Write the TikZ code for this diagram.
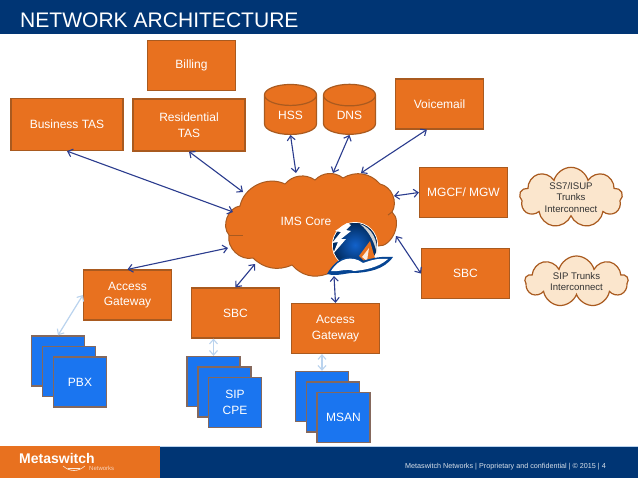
\documentclass[tikz,border=0pt]{standalone}
\usepackage{fontspec}
\setmainfont{Liberation Sans}
\usetikzlibrary{shapes.geometric,shapes.symbols,arrows.meta}
\definecolor{navy}{HTML}{003574}
\definecolor{boxorange}{HTML}{E8711F}
\definecolor{boxedge}{HTML}{A95A1F}
\definecolor{stackblue}{HTML}{1A75F0}
\definecolor{stackedge}{HTML}{85685C}
\definecolor{linkblue}{HTML}{2B3C8E}
\definecolor{linklight}{HTML}{BAD3EE}
\definecolor{cream}{HTML}{FBE6CD}
\tikzset{
  >={Straight Barb[length=4.5pt,width=8pt,line width=1.1pt]},
  box/.style={draw=boxedge,fill=boxorange,line width=1.2pt,text=white,align=center,
    font=\fontsize{12}{15.5}\selectfont,minimum width=88pt,minimum height=50pt,inner sep=0pt},
  stack/.style={draw=stackedge,fill=stackblue,line width=1.4pt,text=white,align=center,
    font=\fontsize{12}{15.5}\selectfont,minimum width=53pt,minimum height=50pt,inner sep=0pt},
  db/.style={cylinder,shape border rotate=90,aspect=0.85,draw=boxedge,fill=boxorange,line width=1.2pt,
    text=white,font=\fontsize{12}{15}\selectfont,minimum width=52pt,minimum height=50pt,inner sep=0pt},
  trunk/.style={cloud,cloud puffs=9,cloud ignores aspect,draw=boxedge,fill=cream,line width=1.2pt,
    text=black!80,align=center,font=\fontsize{9.6}{11.8}\selectfont,minimum width=103pt,minimum height=51pt,inner sep=0pt},
  link/.style={<->,draw=linkblue,line width=1.1pt},
  lightlink/.style={<->,draw=linklight,line width=1.2pt},
}
\begin{document}
\begin{tikzpicture}[x=1pt,y=-1pt]
\useasboundingbox (0,0) rectangle (638,479);
\fill[white] (0,0) rectangle (638,479);

% header and footer
\fill[navy] (0,0) rectangle (638,34);
\node[anchor=west,inner sep=0pt,text=white,font=\fontsize{21.05}{24}\selectfont] (title) at (20,20) {NETWORK ARCHITECTURE};
\fill[navy] (0,446) rectangle (638,478);
\fill[boxorange] (0,446) rectangle (160,478);
\draw[linklight] (160,446) -- (638,446);
\node[anchor=west,inner sep=0pt,text=white,font=\bfseries\fontsize{14}{16}\selectfont] (brand) at (19,458) {Metaswitch};
\node[anchor=west,inner sep=0pt,text=white!70!boxorange,font=\fontsize{6}{7}\selectfont] (brandsub) at (89,468) {Networks};
\draw[white!85!boxorange,line width=.6pt] (63,466) .. controls (70,472) and (78,472) .. (85,466);
\draw[white!85!boxorange,line width=.6pt] (68,468) -- (80,468);
\node[anchor=east,inner sep=0pt,text=white!85!navy,font=\fontsize{7.2}{9}\selectfont] (foot) at (606,466.5) {Metaswitch Networks | Proprietary and confidential | © 2015 | 4};

% boxes
\node[box] (billing) at (191.5,65.5) {Billing};
\node[box,minimum width=112pt,minimum height=52pt] (bustas) at (67,124.5) {Business TAS};
\node[box,minimum width=112pt,minimum height=52pt] (restas) at (189,125) {Residential\\TAS};
\node[db] (hss) at (290.5,115) {HSS};
\node[db] (dns) at (349.5,115) {DNS};
\node[box] (vmail) at (439.5,104) {Voicemail};
\node[box] (mgcf) at (463.5,192.5) {MGCF/ MGW};
\node[box] (sbcr) at (465.5,273.5) {SBC};
\node[box] (agl) at (127.5,295) {Access\\Gateway};
\node[box] (sbcl) at (235.5,313) {SBC};
\node[box] (agm) at (335.5,328.5) {Access\\Gateway};

% trunk clouds
\node[trunk] (ss7) at (571,197.5) {SS7/ISUP\\Trunks\\Interconnect};
\node[trunk] (sip) at (576.5,281.5) {SIP Trunks\\Interconnect};

% stacks
\foreach \i/\x/\y in {1/58/361,2/69/371.5}
  \node[stack] (pbx\i) at (\x,\y) {};
\node[stack] (pbx3) at (80,382) {PBX};
\foreach \i/\x/\y in {1/213.5/381.5,2/224.5/392}
  \node[stack] (cpe\i) at (\x,\y) {};
\node[stack] (cpe3) at (235,402.5) {SIP\\CPE};
\foreach \i/\x/\y in {1/322/396.5,2/333/407}
  \node[stack] (msan\i) at (\x,\y) {};
\node[stack] (msan3) at (343.5,417.5) {MSAN};

% IMS core cloud
\draw[draw=boxedge,fill=boxorange,line width=1pt]
  (229,235) to[bend left=62] (240,206) to[bend left=52] (285,184)
  to[bend left=42] (315,180) to[bend left=42] (343,178) to[bend left=40] (380,184)
  to[bend left=55] (392,212) to[bend left=72] (378,246) -- (327,274)
  to[bend left=34] (292,265) to[bend left=34] (253,258) to[bend left=58] cycle;
\draw[boxedge,line width=1pt] (229,235) -- (243,235);
\draw[boxedge,line width=1pt] (392,212) -- (388,215);
\node[inner sep=0pt,text=white,font=\fontsize{12}{15}\selectfont] (ims) at (306,221) {IMS Core};
\foreach \n/\x/\y in {cbus/233/212,cres/243/192,chss/296/173,cdns/333/173,cvm/361/173,cmg/394/196,csb/396/236,cagl/228/248,csbc/255/264,cagm/334/276}
  \coordinate (\n) at (\x,\y);

% logo
\fill[white] (355,245) circle (23);
\fill[inner color=stackblue!70!navy,outer color=navy!80!black] (355,245) circle (22);
\fill[gray!35] (360,224) .. controls (372,228) and (378,240) .. (377,254) .. controls (375,244) and (370,232) .. (360,224);
\fill[white] (347,223) -- (335,231) -- (341,232) -- (332,243) -- (338,242) -- (333,254) -- (346,239) -- (341,239) -- (351,231) -- (346,230) -- (351,225) -- cycle;
\fill[boxorange] (370,241) -- (359,256) -- (367,264) -- (376,262) -- cycle;
\fill[white!85!boxorange] (369,248) -- (362,257) -- (367,261) -- cycle;
\fill[navy!75!stackblue] (327,274) .. controls (338,277) and (348,272) .. (356,273) .. controls (368,272) and (384,270) .. (393,257) .. controls (382,256) and (372,258) .. (362,261) .. controls (350,252) and (336,258) .. (327,274);
\fill[white] (331,271) .. controls (340,272) and (346,268) .. (354,271) .. controls (364,270) and (378,268) .. (388,259) .. controls (378,258) and (372,260) .. (363,263) .. controls (352,255) and (339,258) .. (331,271);

% links
\draw[link] (bustas.south) -- (cbus);
\draw[link] (restas.south) -- (cres);
\draw[link] (hss.south) -- (chss);
\draw[link] (dns.south) -- (cdns);
\draw[link] (vmail.south west) ++(32,0) -- (cvm);
\draw[link] (mgcf.west) -- (cmg);
\draw[link] (sbcr.west) -- (csb);
\draw[link] (agl.north) -- (cagl);
\draw[link] (sbcl.north) -- (csbc);
\draw[link] (agm.north) -- (cagm);
\draw[lightlink] (agl.west) -- (pbx1.north);
\draw[lightlink] (sbcl.south -| cpe1.north) -- (cpe1.north);
\draw[lightlink] (agm.south -| msan1.north) -- (msan1.north);
\end{tikzpicture}
\end{document}
